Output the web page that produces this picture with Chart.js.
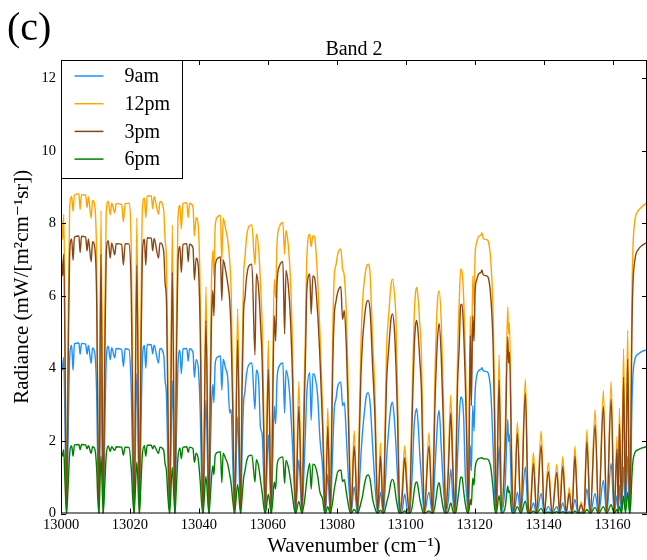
<!DOCTYPE html>
<html>
<head>
<meta charset="utf-8">
<script src="https://cdn.jsdelivr.net/npm/chart.js@4.4.1/dist/chart.umd.min.js"></script>
<style>
  html, body { margin: 0; padding: 0; background: #fff; }
  #wrap { width: 647px; height: 560px; position: relative; }
</style>
</head>
<body>
<div id="wrap"><canvas id="myChart"></canvas></div>
<script>
// Band 2 radiance spectra (mW/[m^2 cm^-1 sr])
const wavenumber = [
  13000.0, 13000.5, 13000.8, 13001.15, 13001.6,
  13002.05, 13002.5, 13003.1, 13003.5, 13003.9, 13005.2, 13005.55, 13005.95, 13007.15, 13007.55, 13007.95, 13008.75, 13009.15, 13009.85, 13010.35, 13010.65, 13011.0,
  13011.6, 13012.25,
  13012.65, 13013.1, 13013.7, 13014.3, 13014.7, 13015.6, 13016.0, 13017.6, 13018.1, 13018.6, 13019.7, 13020.4, 13020.8, 13021.2,
  13022.0, 13022.75,
  13023.15, 13023.6, 13024.2, 13024.6, 13025.0, 13026.2, 13026.6, 13027.0, 13028.3, 13028.7, 13029.8, 13030.2, 13030.6, 13031.0, 13031.5,
  13032.3, 13033.05,
  13033.45, 13033.9, 13034.5, 13034.9, 13035.4, 13036.5, 13036.9, 13037.3, 13038.3, 13038.7, 13039.2, 13039.8, 13040.4, 13040.8, 13041.2,
  13042.05, 13042.9,
  13043.3, 13043.65, 13044.05, 13044.35, 13044.75, 13045.55, 13046.25, 13046.65, 13047.05, 13047.75, 13048.35, 13048.95, 13049.35, 13049.85, 13050.35,
  13051.25, 13052.1,
  13052.52, 13052.97, 13053.37, 13053.77, 13054.47, 13055.37, 13056.27, 13056.67, 13057.37, 13057.87, 13058.37, 13058.82, 13059.27,
  13060.15, 13061.0,
  13061.42, 13061.87, 13062.27, 13062.67, 13063.37, 13064.37, 13064.87, 13065.27, 13065.97, 13066.57, 13067.17, 13067.62, 13068.07,
  13068.99, 13069.92,
  13070.27, 13070.57, 13070.87, 13071.32, 13072.17, 13072.57, 13073.07, 13073.57, 13074.47, 13075.13, 13075.92, 13076.32, 13076.67,
  13077.4, 13078.12,
  13078.48, 13078.83, 13079.28, 13079.78, 13080.28, 13081.18, 13081.68, 13082.18, 13082.78, 13083.28, 13083.73, 13084.13,
  13085.05, 13086.03,
  13086.45, 13087.0, 13087.5, 13088.0, 13088.6, 13089.1, 13089.7, 13090.4, 13091.1, 13091.5, 13091.9,
  13092.67, 13093.47,
  13093.88, 13094.43, 13095.13, 13095.73, 13096.18, 13096.73, 13097.18, 13097.63, 13097.98, 13098.33,
  13099.0, 13099.7, 13100.4, 13101.1,
  13101.52, 13101.97, 13102.47, 13102.87, 13103.22, 13103.67, 13104.07, 13104.57, 13104.97, 13105.37,
  13106.75, 13107.73,
  13108.05, 13108.45, 13108.9, 13109.25, 13109.7, 13110.3, 13110.9, 13111.25, 13111.6,
  13112.38, 13113.08, 13113.68, 13114.28,
  13114.65, 13115.05, 13115.5, 13115.95, 13116.35, 13116.85, 13117.25, 13117.7, 13118.15,
  13118.45, 13118.75, 13119.05, 13119.45, 13119.8, 13120.15, 13120.6, 13121.3, 13121.8, 13122.1, 13122.5, 13123.7, 13124.2, 13124.7, 13125.35, 13125.85, 13126.25,
  13127.1, 13127.8, 13128.9, 13129.6, 13129.85, 13130.1, 13130.8, 13131.4, 13132.4, 13133.4, 13134.7, 13135.5, 13136.05, 13137.05, 13137.95,
  13139.3, 13140.2, 13141.37, 13142.47, 13143.85, 13144.65, 13145.55, 13146.55, 13147.45, 13148.2, 13149.1, 13150.0, 13150.9, 13151.7, 13152.55,
  13153.55, 13154.95, 13155.95, 13157.35, 13158.3, 13159.6, 13160.5, 13161.3, 13161.65, 13162.0, 13162.6, 13163.2, 13163.75, 13164.4, 13164.95,
  13165.3, 13165.6, 13165.9, 13166.5, 13167.5, 13168.6, 13170.0
];

const rad12pm = [
  8.35, 7.55, 8.25, 5.4, 0,
  4.85, 8.38, 8.74, 8.33, 8.78, 8.81, 8.38, 8.79, 8.78, 8.43, 8.73, 8.14, 8.63, 8.43, 6.95, 3.47, 0,
  8.35, 0,
  4.75, 8.23, 8.61, 8.23, 8.55, 8.28, 8.54, 8.52, 8.04, 8.54, 8.55, 7.15, 3.57, 0,
  8.15, 0,
  4.95, 8.35, 8.7, 8.15, 8.75, 8.75, 8.4, 8.73, 8.25, 8.6, 8.35, 7.55, 6.95, 3.77, 0,
  7.95, 0,
  4.85, 8.05, 8.5, 7.85, 8.55, 8.57, 8.15, 8.55, 8.45, 7.65, 8.15, 7.95, 5.95, 2.47, 0,
  6.25, 0,
  3.97, 6.35, 7.25, 6.55, 7.95, 8.19, 8.22, 6.95, 8.14, 7.85, 7.55, 6.95, 6.15, 3.47, 0,
  5.65, 0,
  4.17, 6.55, 7.05, 7.55, 7.9, 7.95, 6.85, 7.7, 7.25, 6.35, 5.15, 2.77, 0,
  4.77, 0,
  3.77, 6.45, 5.95, 7.45, 7.9, 8.02, 7.15, 7.8, 7.35, 6.45, 4.57, 2.17, 0,
  3.63, 0,
  1.97, 3.67, 4.77, 7.05, 7.7, 7.35, 7.66, 7.62, 6.42, 4.97, 2.78, 1.18, 0,
  2.91, 0,
  2.47, 4.95, 6.55, 6.85, 7.15, 7.29, 6.75, 6.55, 5.52, 3.67, 1.58, 0,
  2.28, 0,
  2.17, 4.57, 5.85, 6.42, 6.8, 6.87, 6.55, 4.78, 3.23, 1.48, 0,
  1.95, 0,
  1.78, 4.46, 5.55, 6.3, 6.46, 6.05, 5.35, 3.37, 1.38, 0,
  0.78, 1.86, 0.88, 0,
  1.78, 3.67, 5.45, 6.1, 6.23, 5.85, 5.25, 4.36, 2.17, 0,
  2.23, 0,
  1.48, 3.67, 5.15, 5.9, 6.14, 5.32, 3.33, 1.48, 0,
  1.48, 3.27, 1.48, 0,
  1.97, 4.36, 5.75, 6.74, 6.65, 5.85, 4.6, 2.57, 0,
  2.97, 5.45, 3.77, 6.55, 5.75, 7.15, 7.47, 7.65, 7.67, 7.74, 7.58, 7.54, 7.4, 6.95, 5.52, 2.78, 0,
  4.37, 0.19, 2.47, 5.7, 4.95, 5.25, 1.48, 0.09, 2.52, 0.09, 3.71, 0.49, 0, 1.68, 0.04,
  2.28, 0, 1.4, 0, 1.36, 0.04, 1.57, 0, 0.72, 0, 1.86, 0, 0.32, 0, 2.31,
  0, 2.86, 0, 3.4, 0, 3.63, 0, 2.13, 0.29, 2.91, 0.19, 4.54, 0.49, 5.05, 0,
  2.47, 5.75, 7.25, 8.08, 8.35, 8.46, 8.57
];

const rad3pm = [
  7.25, 6.55, 7.15, 4.5, 0,
  3.85, 7.14, 7.57, 6.98, 7.62, 7.65, 7.19, 7.64, 7.62, 7.24, 7.57, 6.94, 7.49, 7.29, 5.85, 2.78, 0,
  7.15, 0,
  3.75, 7.04, 7.52, 7.04, 7.46, 7.13, 7.44, 7.42, 6.85, 7.44, 7.43, 5.95, 2.78, 0,
  6.85, 0,
  3.95, 7.14, 7.56, 6.84, 7.6, 7.59, 7.24, 7.58, 7.04, 7.46, 7.22, 6.35, 5.85, 2.97, 0,
  6.65, 0,
  3.85, 6.84, 7.36, 6.64, 7.42, 7.44, 6.94, 7.42, 7.32, 6.44, 7.04, 6.84, 4.95, 1.97, 0,
  5.32, 0,
  3.17, 5.25, 6.15, 5.45, 6.84, 7.04, 7.07, 5.87, 6.99, 6.7, 6.35, 5.85, 4.95, 2.77, 0,
  4.78, 0,
  3.37, 5.55, 5.95, 6.45, 6.82, 6.87, 4.37, 6.6, 6.15, 5.25, 4.17, 2.17, 0,
  3.97, 0,
  2.97, 5.45, 4.75, 6.35, 6.82, 6.94, 4.95, 6.7, 6.25, 5.35, 3.67, 1.68, 0,
  2.95, 0,
  1.48, 2.97, 4.05, 6.15, 6.6, 5.5, 6.55, 6.5, 5.5, 4.25, 2.32, 0.88, 0,
  2.4, 0,
  1.88, 4.05, 5.45, 5.85, 6.1, 6.25, 5.35, 5.6, 4.6, 2.97, 1.18, 0,
  1.86, 0,
  1.68, 3.77, 4.78, 5.35, 5.8, 5.87, 5.55, 4.05, 2.58, 1.08, 0,
  1.58, 0,
  1.38, 3.56, 4.6, 5.35, 5.5, 5.05, 4.05, 2.67, 0.98, 0,
  0.49, 1.54, 0.59, 0,
  1.38, 2.97, 4.55, 5.2, 5.32, 4.9, 4.25, 3.37, 1.58, 0,
  1.86, 0,
  1.08, 2.87, 4.15, 4.85, 5.24, 4.35, 2.57, 1.08, 0,
  1.18, 2.77, 1.18, 0,
  1.48, 3.56, 4.55, 5.74, 5.77, 4.91, 3.76, 1.97, 0,
  2.37, 4.91, 2.97, 5.45, 4.75, 6.15, 6.44, 6.62, 6.64, 6.71, 6.58, 6.54, 6.4, 5.95, 4.65, 2.18, 0,
  3.67, 0.09, 1.98, 4.87, 4.15, 4.45, 0.98, 0.04, 2.22, 0.04, 3.32, 0.29, 0, 1.38, 0.02,
  1.88, 0, 1.15, 0, 1.13, 0.02, 1.3, 0, 0.56, 0, 1.58, 0, 0.24, 0, 1.98,
  0, 2.44, 0, 2.95, 0, 3.15, 0, 1.78, 0.19, 2.47, 0.12, 3.76, 0.34, 4.26, 0,
  1.98, 4.86, 6.25, 7.0, 7.28, 7.39, 7.47
];

const rad9am = [
  4.38, 3.95, 4.3, 2.55, 0,
  2.05, 4.25, 4.63, 3.95, 4.68, 4.7, 4.39, 4.69, 4.67, 4.39, 4.63, 4.14, 4.56, 4.39, 3.25, 1.38, 0,
  4.15, 0,
  1.98, 4.14, 4.61, 4.24, 4.57, 4.29, 4.55, 4.52, 4.05, 4.54, 4.52, 3.35, 1.38, 0,
  3.85, 0,
  2.07, 4.2, 4.63, 4.0, 4.66, 4.65, 4.4, 4.64, 4.15, 4.55, 4.37, 3.66, 3.26, 1.48, 0,
  3.66, 0,
  1.97, 4.0, 4.5, 3.85, 4.54, 4.55, 4.2, 4.54, 4.44, 3.75, 4.24, 4.05, 2.76, 0.98, 0,
  3.12, 0,
  1.57, 2.96, 3.56, 3.06, 4.15, 4.32, 4.34, 3.4, 4.25, 4.0, 3.76, 2.77, 2.87, 1.38, 0,
  2.67, 0,
  1.67, 3.06, 3.36, 3.8, 4.1, 4.15, 2.87, 3.95, 3.6, 2.37, 2.17, 0.98, 0,
  2.17, 0,
  1.48, 2.96, 2.47, 3.7, 4.07, 4.15, 2.77, 3.95, 3.66, 2.96, 1.87, 0.78, 0,
  1.48, 0,
  0.68, 1.38, 2.13, 3.32, 3.88, 2.57, 3.85, 3.8, 3.22, 2.05, 1.22, 0.38, 0,
  1.08, 0,
  0.78, 1.77, 2.87, 3.16, 3.5, 3.62, 2.97, 3.06, 2.13, 1.13, 0.44, 0,
  0.74, 0,
  0.59, 1.58, 2.27, 2.77, 3.26, 3.33, 3.01, 1.86, 0.77, 0.29, 0,
  0.59, 0,
  0.44, 1.48, 2.4, 2.96, 3.07, 2.57, 1.86, 0.98, 0.29, 0,
  0.09, 0.54, 0.14, 0,
  0.44, 1.28, 2.46, 2.8, 2.89, 2.36, 1.65, 0.98, 0.39, 0,
  0.59, 0,
  0.29, 1.18, 1.97, 2.56, 2.84, 1.85, 0.78, 0.29, 0,
  0.39, 1.22, 0.39, 0,
  0.49, 1.58, 2.57, 3.21, 3.16, 2.57, 1.13, 0.49, 0,
  0.88, 1.87, 1.18, 2.97, 2.27, 3.36, 3.8, 3.95, 3.97, 4.02, 3.93, 3.9, 3.77, 3.33, 1.86, 0.49, 0,
  1.86, 0.02, 0.88, 2.6, 1.98, 2.18, 0.29, 0, 0.59, 0, 1.28, 0.04, 0, 0.29, 0,
  0.55, 0, 0.19, 0, 0.19, 0, 0.29, 0, 0.05, 0, 0.39, 0, 0.04, 0, 0.68,
  0, 0.55, 0, 0.91, 0, 1.38, 0, 0.49, 0.02, 0.78, 0.02, 1.28, 0.07, 1.58, 0,
  1.08, 2.87, 3.76, 4.25, 4.4, 4.47, 4.51
];

const rad6pm = [
  1.8, 1.58, 1.76, 0.88, 0,
  0.72, 1.64, 1.86, 1.58, 1.89, 1.9, 1.76, 1.9, 1.89, 1.78, 1.87, 1.66, 1.84, 1.76, 1.22, 0.44, 0,
  1.58, 0,
  0.68, 1.58, 1.86, 1.71, 1.84, 1.74, 1.84, 1.83, 1.61, 1.83, 1.82, 1.22, 0.44, 0,
  1.42, 0,
  0.73, 1.61, 1.87, 1.58, 1.88, 1.88, 1.78, 1.87, 1.66, 1.83, 1.74, 1.37, 1.17, 0.49, 0,
  1.27, 0,
  0.68, 1.51, 1.81, 1.51, 1.83, 1.84, 1.68, 1.83, 1.78, 1.41, 1.66, 1.51, 0.87, 0.28, 0,
  1.02, 0,
  0.43, 0.97, 1.32, 1.07, 1.61, 1.69, 1.7, 0.85, 1.66, 1.51, 1.37, 1.07, 0.83, 0.34, 0,
  0.8, 0,
  0.43, 0.97, 1.17, 1.41, 1.59, 1.61, 0.87, 1.48, 1.27, 0.92, 0.58, 0.19, 0,
  0.53, 0,
  0.34, 0.87, 0.68, 1.31, 1.52, 1.56, 0.83, 1.46, 1.27, 0.92, 0.48, 0.14, 0,
  0.33, 0,
  0.14, 0.29, 0.53, 0.94, 1.38, 0.67, 1.36, 1.34, 1.03, 0.58, 0.39, 0.09, 0,
  0.19, 0,
  0.14, 0.34, 0.67, 0.93, 1.15, 1.2, 0.88, 0.93, 0.58, 0.29, 0.07, 0,
  0.11, 0,
  0.09, 0.29, 0.49, 0.78, 1.02, 1.06, 0.92, 0.4, 0.14, 0.04, 0,
  0.09, 0,
  0.05, 0.29, 0.54, 0.87, 0.94, 0.78, 0.44, 0.19, 0.04, 0,
  0.01, 0.07, 0.01, 0,
  0.05, 0.24, 0.63, 0.84, 0.87, 0.68, 0.4, 0.19, 0.04, 0,
  0.07, 0,
  0.03, 0.19, 0.49, 0.73, 0.85, 0.49, 0.14, 0.03, 0,
  0.07, 0.29, 0.07, 0,
  0.07, 0.34, 0.68, 1.01, 0.99, 0.58, 0.29, 0.07, 0,
  0.14, 0.39, 0.24, 0.97, 0.78, 1.26, 1.45, 1.52, 1.53, 1.54, 1.51, 1.5, 1.44, 1.26, 0.68, 0.11, 0,
  0.49, 0, 0.19, 0.76, 0.58, 0.63, 0.04, 0, 0.19, 0, 0.34, 0, 0, 0.07, 0,
  0.14, 0, 0.04, 0, 0.05, 0, 0.05, 0, 0.01, 0, 0.07, 0, 0.01, 0, 0.11,
  0, 0.17, 0, 0.19, 0, 0.24, 0, 0.11, 0.01, 0.19, 0.01, 0.48, 0.02, 0.58, 0,
  0.29, 0.97, 1.42, 1.68, 1.76, 1.81, 1.84
];

const seriesNames = ['9am', '12pm', '3pm', '6pm'];
const seriesColors = ['#1e90ff', '#ffa500', '#8b4513', '#008000'];
const seriesValues = [rad9am, rad12pm, rad3pm, rad6pm];

seriesValues.forEach((s, i) => {
  if (s.length !== wavenumber.length) console.error(seriesNames[i], s.length, wavenumber.length);
});

const FONT = "'Liberation Serif', 'DejaVu Serif', serif";

// inward ticks, frame, legend box and the two captions
const decor = {
  id: 'decor',
  afterDatasetsDraw(chart) {
    const { ctx, chartArea: a, scales: { x, y } } = chart;
    ctx.save();
    ctx.strokeStyle = '#000';
    ctx.lineWidth = 1;
    ctx.beginPath();
    x.ticks.forEach(t => {
      const px = Math.round(x.getPixelForValue(t.value)) + 0.5;
      ctx.moveTo(px, a.bottom); ctx.lineTo(px, a.bottom - 5);
      ctx.moveTo(px, a.top); ctx.lineTo(px, a.top + 5);
    });
    y.ticks.forEach(t => {
      const py = Math.round(y.getPixelForValue(t.value)) + 0.5;
      ctx.moveTo(a.left, py); ctx.lineTo(a.left + 5, py);
      ctx.moveTo(a.right, py); ctx.lineTo(a.right - 5, py);
    });
    ctx.stroke();
    ctx.strokeRect(a.left + 0.5, a.top + 0.5, a.width - 1, a.height - 1);

    // legend
    const lx = a.left + 0.5, ly = a.top + 0.5, lw = 121, lh = 118;
    ctx.fillStyle = '#fff';
    ctx.fillRect(lx, ly, lw, lh);
    ctx.strokeRect(lx, ly, lw, lh);
    ctx.font = '20px ' + FONT;
    ctx.textBaseline = 'middle';
    ctx.textAlign = 'left';
    chart.data.datasets.forEach((ds, i) => {
      const ry = ly + 16.5 + i * 27.7;
      ctx.strokeStyle = ds.borderColor;
      ctx.lineWidth = 1.5;
      ctx.beginPath();
      ctx.moveTo(lx + 13, ry - 1); ctx.lineTo(lx + 42, ry - 1);
      ctx.stroke();
      ctx.fillStyle = '#000';
      ctx.fillText(ds.label, lx + 63, ry);
    });

    ctx.fillStyle = '#000';
    ctx.textAlign = 'center';
    ctx.textBaseline = 'alphabetic';
    ctx.font = '20px ' + FONT;
    ctx.fillText('Band 2', (a.left + a.right) / 2, 55);
    ctx.textAlign = 'left';
    ctx.font = '40px ' + FONT;
    ctx.fillText('(c)', 7, 40);
    ctx.restore();
  }
};

const ctx = document.getElementById('myChart').getContext('2d');
new Chart(ctx, {
  type: 'line',
  data: {
    datasets: seriesNames.map((name, i) => ({
      label: name,
      data: wavenumber.map((w, k) => ({ x: w, y: seriesValues[i][k] })),
      borderColor: seriesColors[i],
      borderWidth: 1.4,
      borderJoinStyle: 'round',
      pointRadius: 0,
      fill: false,
      cubicInterpolationMode: 'monotone',
      order: 3 - i
    }))
  },
  options: {
    responsive: true,
    maintainAspectRatio: false,
    animation: false,
    layout: { padding: { top: 60, left: 0, right: 0, bottom: 0 } },
    plugins: {
      legend: { display: false },
      tooltip: { enabled: false },
      title: { display: false }
    },
    scales: {
      x: {
        type: 'linear',
        min: 13000,
        max: 13170,
        grid: { display: false, drawTicks: false },
        border: { display: false },
        ticks: {
          stepSize: 20,
          includeBounds: false,
          autoSkip: false,
          maxRotation: 0,
          padding: 3,
          color: '#000',
          font: { family: FONT, size: 14.5 },
          callback: v => String(v)
        },
        title: {
          display: true,
          text: 'Wavenumber (cm\u207B\u00B9)',
          color: '#000',
          font: { family: FONT, size: 21 },
          padding: { top: 0, bottom: 1 }
        },
        afterFit: s => { s.height = 46.5; }
      },
      y: {
        min: 0,
        max: 12.5,
        grid: { display: false, drawTicks: false },
        border: { display: false },
        ticks: {
          stepSize: 2,
          includeBounds: false,
          padding: 5,
          color: '#000',
          font: { family: FONT, size: 14.5 },
          callback: v => String(v)
        },
        title: {
          display: true,
          text: 'Radiance (mW/[m\u00B2cm\u207B\u00B9sr])',
          color: '#000',
          font: { family: FONT, size: 21 },
          padding: { top: 10, bottom: 0 }
        },
        afterFit: s => { s.width = 61; }
      }
    }
  },
  plugins: [decor]
});
</script>
</body>
</html>
